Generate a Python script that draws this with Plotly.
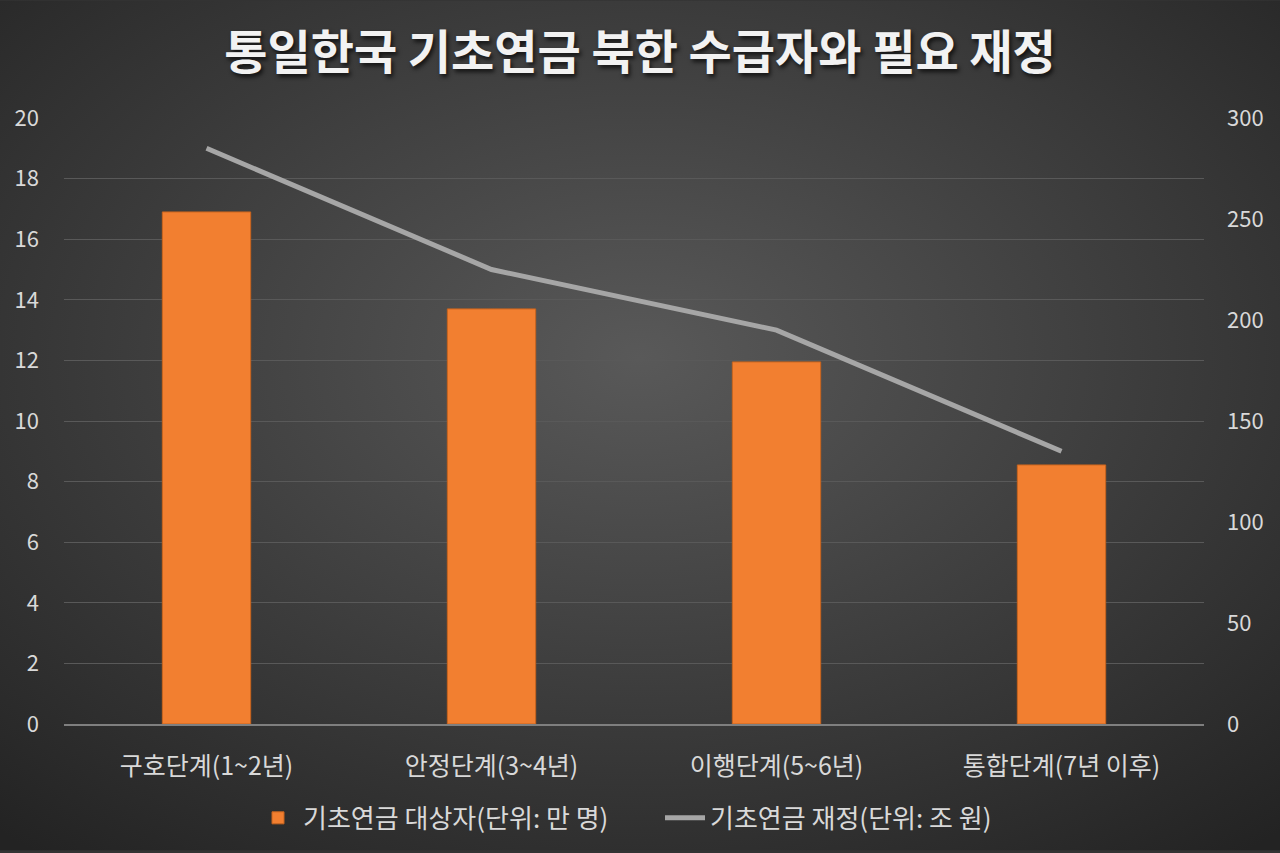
import base64
import plotly.graph_objects as go

categories = ["구호단계(1~2년)", "안정단계(3~4년)", "이행단계(5~6년)", "통합단계(7년 이후)"]
recipients = [16.9, 13.7, 11.95, 8.55]      # 기초연금 대상자(단위: 만 명)
budget = [285, 225, 195, 135]               # 기초연금 재정(단위: 조 원)
left_ticks = [0, 2, 4, 6, 8, 10, 12, 14, 16, 18, 20]
right_ticks = [0, 50, 100, 150, 200, 250, 300]

FONT = "Noto Sans CJK KR"

svg = """<svg xmlns='http://www.w3.org/2000/svg' width='1280' height='853' viewBox='0 0 1280 853'>
<defs><radialGradient id='g' cx='50%' cy='42%' r='75%'>
<stop offset='0%' stop-color='#595959'/><stop offset='100%' stop-color='#232323'/>
</radialGradient></defs><rect width='1280' height='853' fill='url(#g)'/></svg>"""
bg = "data:image/svg+xml;base64," + base64.b64encode(svg.encode()).decode()

fig = go.Figure()
fig.add_trace(go.Bar(
    x=categories, y=recipients, name="기초연금 대상자(단위: 만 명)",
    marker=dict(color="#F27F30", line=dict(color="#C8641E", width=1)),
    width=0.31, yaxis="y",
))
fig.add_trace(go.Scatter(
    x=categories, y=budget, name="기초연금 재정(단위: 조 원)",
    mode="lines", line=dict(color="#A6A6A6", width=5), yaxis="y2",
))

fig.update_layout(
    width=1280, height=853,
    margin=dict(l=64, r=76, t=118, b=127),
    paper_bgcolor="#333333", plot_bgcolor="rgba(0,0,0,0)",
    images=[dict(source=bg, xref="paper", yref="paper", x=-64/1140, y=1 + 118/608,
                 sizex=1280/1140, sizey=853/608, sizing="stretch", layer="below",
                 xanchor="left", yanchor="top")],
    title=dict(text="<b>통일한국 기초연금 북한 수급자와 필요 재정</b>", x=0.5, xanchor="center",
               y=1 - 53/853, yanchor="middle",
               font=dict(family=FONT, size=47, color="#F2F2F2",
                         shadow="2px 3px 4px rgba(0,0,0,0.7)")),
    font=dict(family=FONT, color="#D9D9D9"),
    showlegend=True,
    legend=dict(orientation="h", x=(253 - 64) / 1140, xanchor="left", y=-0.155, yanchor="middle",
                font=dict(family=FONT, size=26, color="#D9D9D9"), bgcolor="rgba(0,0,0,0)",
                itemwidth=40, entrywidth=352, entrywidthmode="pixels"),
    bargap=0.69,
    xaxis=dict(showgrid=False, showline=True, linecolor="#7F7F7F", linewidth=1.5,
               tickfont=dict(family=FONT, size=25, color="#D9D9D9"), ticks="",
               ticklabelstandoff=19, zeroline=False),
    yaxis=dict(range=[0, 20], tickvals=left_ticks, showgrid=True, gridcolor="#595959",
               gridwidth=1, zeroline=False, showline=False,
               tickfont=dict(family=FONT, size=22, color="#D9D9D9"), ticklabelstandoff=24),
    yaxis2=dict(range=[0, 300], tickvals=right_ticks, overlaying="y", side="right",
                showgrid=False, zeroline=False, showline=False,
                tickfont=dict(family=FONT, size=22, color="#D9D9D9"), ticklabelstandoff=22),
)

fig.write_html("out.html")
